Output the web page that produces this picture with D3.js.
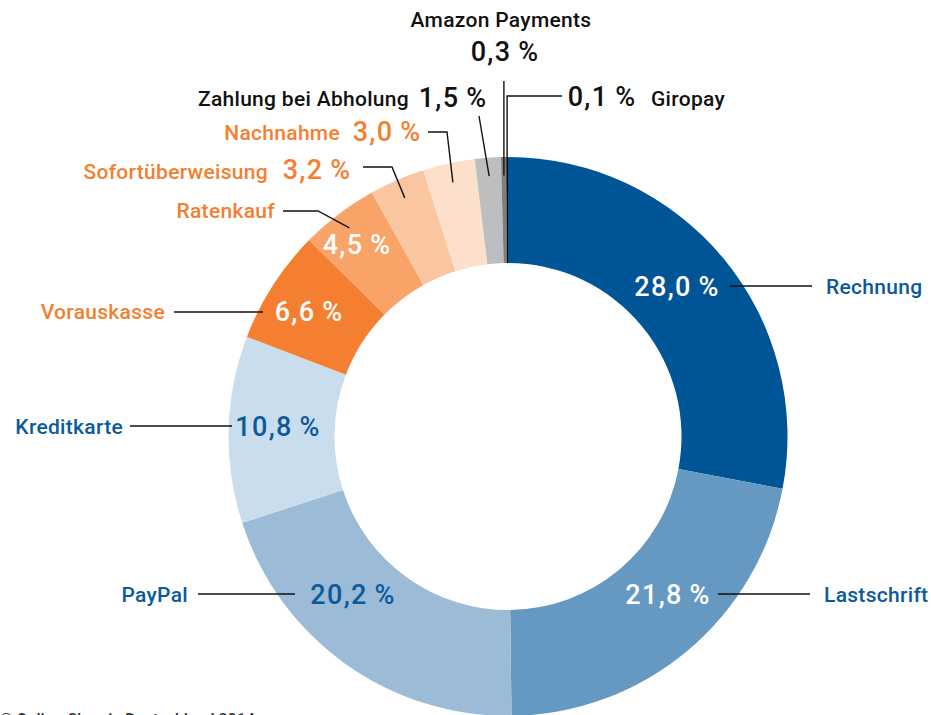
<!DOCTYPE html>
<html><head><meta charset="utf-8">
<script src="https://cdn.jsdelivr.net/npm/d3@7"></script>
<style>html,body{margin:0;padding:0;background:#fff;overflow:hidden}</style>
</head><body>
<svg id="c" width="931" height="715"></svg>
<script>
// ---- data ----
const categories = ["Rechnung","Lastschrift","PayPal","Kreditkarte","Vorauskasse","Ratenkauf","Sofortüberweisung","Nachnahme","Zahlung bei Abholung","Amazon Payments","Giropay"];
const values = [28.0,21.8,20.2,10.8,6.6,4.5,3.2,3.0,1.5,0.3,0.1];
const sliceColors = ["#005596","#6699c2","#9bbbd6","#cadded","#f47f30","#f8a469","#fac6a0","#fde0cb","#bdbec0","#7f7f7f","#000000"];
const nameColors = ["#0a5a9c","#0a5a9c","#0a5a9c","#0a5a9c","#f47f30","#f47f30","#f47f30","#f47f30","#111","#111","#111"];
const pctColors = ["#fff","#fff","#0a5a9c","#0a5a9c","#fff","#fff","#f47f30","#f47f30","#111","#111","#111"];
const footer = "© Online-Shop in Deutschland 2014";

// ---- layout ----
const W = 931, H = 715, cx = 508, cy = 436.5, rOuter = 279.5, rInner = 173.5;
const layout = [
  {nx:826, ny:287, na:"start", px:677, py:287, line:[[730,286],[812,286]]},
  {nx:824, ny:595, na:"start", px:668, py:595, line:[[718,594],[810,594]]},
  {nx:188, ny:595, na:"end",   px:353, py:595, line:[[198,594],[295,594]]},
  {nx:123, ny:427, na:"end",   px:278, py:427, line:[[130,426],[232,426]]},
  {nx:165, ny:312, na:"end",   px:309, py:312, line:[[174,312],[263,312]]},
  {nx:275, ny:211, na:"end",   px:357, py:245, line:[[283,211],[318,211]], ring:262},
  {nx:268, ny:172, na:"end",   px:317, py:170, line:[[363,167],[392,167]], ring:260},
  {nx:340, ny:133, na:"end",   px:387, py:132, line:[[428,132],[447,132]], ring:260},
  {nx:409, ny:99,  na:"end",   px:453, py:98,  line:[[479,116]], ring:261},
  {nx:501, ny:20,  na:"middle",px:505, py:52,  vert:81, ring:261},
  {nx:651, ny:99,  na:"start", px:602, py:97,  line:[[562,96]], knee:96, ring:279}
];

const fmt = v => d3.format(".1f")(v).replace(".", ",") + "\u2009%";

const svg = d3.select("#c");
const g = svg.append("g").attr("transform", `translate(${cx},${cy})`);

const pie = d3.pie().sort(null).value(d => d)(values);
const arc = d3.arc().innerRadius(rInner).outerRadius(rOuter);

g.selectAll("path.slice").data(pie).join("path")
  .attr("class","slice")
  .attr("d", arc)
  .attr("fill", (d,i) => sliceColors[i]);

const FONT = "Roboto, 'Open Sans', sans-serif";
const ringPt = (d, r) => {
  const a = (d.startAngle + d.endAngle) / 2;
  return [cx + r*Math.sin(a), cy - r*Math.cos(a)];
};

const lines = svg.append("g").attr("fill","none").attr("stroke","#111").attr("stroke-width",1.4);
pie.forEach((d,i) => {
  const L = layout[i];
  let pts;
  if (L.vert !== undefined) {
    const p = ringPt(d, L.ring);
    pts = [[p[0], L.vert], p];
  } else if (L.knee !== undefined) {
    const p = ringPt(d, L.ring);
    pts = [L.line[0], [p[0], L.knee], p];
  } else if (L.ring) {
    pts = L.line.concat([ringPt(d, L.ring)]);
  } else {
    pts = L.line;
  }
  lines.append("path").attr("d", d3.line()(pts));
});

svg.append("g").selectAll("text").data(categories).join("text")
  .attr("x", (d,i) => layout[i].nx)
  .attr("y", (d,i) => layout[i].ny)
  .attr("text-anchor", (d,i) => layout[i].na)
  .attr("dominant-baseline","central")
  .attr("font-family", FONT)
  .attr("font-weight", 500)
  .attr("font-size", 21)
  .attr("letter-spacing", 0.3)
  .attr("fill", (d,i) => nameColors[i])
  .text(d => d);

svg.append("g").selectAll("text").data(values).join("text")
  .attr("x", (d,i) => layout[i].px)
  .attr("y", (d,i) => layout[i].py)
  .attr("text-anchor","middle")
  .attr("dominant-baseline","central")
  .attr("font-family", FONT)
  .attr("font-weight", 500)
  .attr("font-size", 27)
  .attr("letter-spacing", 1.3)
  .attr("fill", (d,i) => pctColors[i])
  .text(d => fmt(d));

svg.append("text")
  .attr("x", 0).attr("y", 725)
  .attr("font-family", FONT).attr("font-weight", 500).attr("font-size", 16)
  .attr("fill","#333")
  .text(footer);
</script>
</body></html>
